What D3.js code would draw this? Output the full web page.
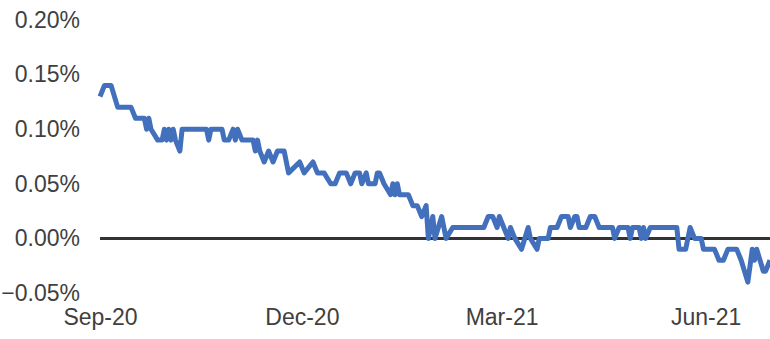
<!DOCTYPE html>
<html><head><meta charset="utf-8">
<script src="https://cdn.jsdelivr.net/npm/d3@7"></script>
<style>body{margin:0;background:#fff;}svg{display:block;}</style>
</head><body>
<svg id="c" width="770" height="339"></svg>
<script>
// Data: dates and values (in %)
const dates = ["2020-09-01","2020-09-03","2020-09-06","2020-09-09","2020-09-15","2020-09-17","2020-09-21","2020-09-22","2020-09-23","2020-09-24",
"2020-09-27","2020-09-29","2020-09-30","2020-10-01","2020-10-02","2020-10-03","2020-10-04","2020-10-05","2020-10-07","2020-10-08",
"2020-10-19","2020-10-20","2020-10-21","2020-10-26","2020-10-27","2020-10-29","2020-10-31","2020-11-01","2020-11-02","2020-11-04",
"2020-11-09","2020-11-10","2020-11-11","2020-11-12","2020-11-14","2020-11-16","2020-11-18","2020-11-20","2020-11-23","2020-11-25",
"2020-11-30","2020-12-02","2020-12-06","2020-12-08","2020-12-11","2020-12-14","2020-12-16","2020-12-18","2020-12-21","2020-12-23",
"2020-12-25","2020-12-27","2020-12-28","2020-12-30","2020-12-31","2021-01-03","2021-01-04","2021-01-05","2021-01-07","2021-01-10",
"2021-01-11","2021-01-12","2021-01-13","2021-01-14","2021-01-18","2021-01-20","2021-01-22","2021-01-24","2021-01-26","2021-01-27",
"2021-01-29","2021-01-30","2021-02-02","2021-02-04","2021-02-07","2021-02-21","2021-02-23","2021-02-25","2021-02-27","2021-02-28",
"2021-03-02","2021-03-04","2021-03-05","2021-03-07","2021-03-10","2021-03-13","2021-03-14","2021-03-17","2021-03-18","2021-03-22",
"2021-03-23","2021-03-26","2021-03-28","2021-03-31","2021-04-01","2021-04-03","2021-04-04","2021-04-05","2021-04-08","2021-04-10",
"2021-04-12","2021-04-14","2021-04-20","2021-04-21","2021-04-23","2021-04-27","2021-04-28","2021-04-29","2021-05-02","2021-05-03",
"2021-05-04","2021-05-05","2021-05-07","2021-05-19","2021-05-20","2021-05-23","2021-05-25","2021-05-27","2021-05-30","2021-05-31",
"2021-06-05","2021-06-07","2021-06-09","2021-06-11","2021-06-15","2021-06-17","2021-06-20","2021-06-22","2021-06-23","2021-06-24",
"2021-06-27","2021-06-28","2021-06-30"];
const values = [0.13,0.14,0.14,0.12,0.12,0.11,0.11,0.10,0.11,0.10,
0.09,0.09,0.10,0.09,0.10,0.09,0.10,0.09,0.08,0.10,
0.10,0.09,0.10,0.10,0.09,0.09,0.10,0.09,0.10,0.09,
0.09,0.08,0.09,0.08,0.07,0.08,0.07,0.08,0.08,0.06,
0.07,0.06,0.07,0.06,0.06,0.05,0.05,0.06,0.06,0.05,
0.06,0.06,0.05,0.06,0.05,0.05,0.06,0.06,0.05,0.04,
0.05,0.04,0.05,0.04,0.04,0.03,0.03,0.02,0.03,0.00,
0.02,0.00,0.02,0.00,0.01,0.01,0.02,0.02,0.01,0.02,
0.01,0.00,0.01,0.00,-0.01,0.01,0.00,-0.01,0.00,0.00,
0.01,0.01,0.02,0.02,0.01,0.02,0.02,0.01,0.01,0.02,
0.02,0.01,0.01,0.00,0.01,0.01,0.00,0.01,0.01,0.00,
0.01,0.00,0.01,0.01,-0.01,-0.01,0.01,0.00,0.00,-0.01,
-0.01,-0.02,-0.02,-0.01,-0.01,-0.02,-0.04,-0.01,-0.02,-0.01,
-0.03,-0.03,-0.02];
const yTicks = [-0.05,0.00,0.05,0.10,0.15,0.20];
const xTicks = ["2020-09-01","2020-12-01","2021-03-01","2021-06-01"];

const parse = d3.utcParse("%Y-%m-%d");
const data = dates.map((d,i)=>({date:parse(d), v:values[i]}));

const svg = d3.select("#c");
const x = d3.scaleUtc().domain([parse("2020-09-01"), parse("2021-06-30")]).range([100, 770]);
const y = d3.scaleLinear().domain([-0.05, 0.20]).range([293, 20]);

const font = "'Liberation Sans', Arial, sans-serif";

// Y axis labels
const yAxis = d3.axisLeft(y).tickValues(yTicks).tickFormat(d=>d3.format(".2f")(d)+"%").tickSize(0).tickPadding(0);
const gy = svg.append("g").attr("transform","translate(80,0)").call(yAxis);
gy.select(".domain").remove();
gy.selectAll("text").attr("font-family",font).attr("font-size",23).attr("fill","#404040");

// X axis labels
const xAxis = d3.axisBottom(x).tickValues(xTicks.map(parse)).tickFormat(d3.utcFormat("%b-%y")).tickSize(0).tickPadding(0);
const gx = svg.append("g").attr("transform","translate(0,309)").call(xAxis);
gx.select(".domain").remove();
gx.selectAll("text").attr("font-family",font).attr("font-size",23).attr("fill","#404040");

// zero line
svg.append("line").attr("x1",100).attr("x2",770).attr("y1",y(0)).attr("y2",y(0))
  .attr("stroke","#333333").attr("stroke-width",3);

// series line
const line = d3.line().x(d=>x(d.date)).y(d=>y(d.v));
svg.append("path").datum(data).attr("d",line).attr("fill","none")
  .attr("stroke","#4270bd").attr("stroke-width",5).attr("stroke-linejoin","round");
</script>
</body></html>
